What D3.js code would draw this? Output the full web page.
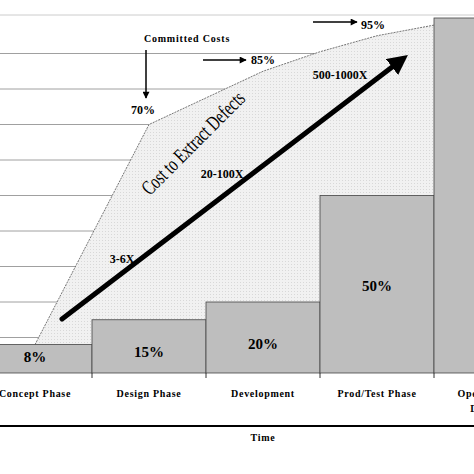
<!DOCTYPE html>
<html>
<head>
<script src="https://d3js.org/d3.v7.min.js"></script>
</head>
<body style="margin:0">
<svg class="target" width="474" height="474"></svg>
<script>

// phases and share of cost per phase
phases = ['Concept Phase', 'Design Phase', 'Development', 'Prod/Test Phase', 'Operations &\nDisposal']
costShare = [8, 15, 20, 50, 100]
shareLabels = ['8%', '15%', '20%', '50%', '100%']

// committed cost curve: position in phase units, percent
committedX = [0.5, 1.5, 2.5, 3, 3.5, 4]
committedY = [8, 70, 85, 90.5, 95, 98]

gridTicks = [10, 20, 30, 40, 50, 60, 70, 80, 90]

// defect cost multipliers along the arrow
multLabels = ['3-6X', '20-100X', '500-1000X']

const svg = d3.select('.target').style('background', '#fff')
const serif = 'Liberation Serif, Times New Roman, serif'

x = d3.scaleLinear().domain([0, 1]).range([-22, 92])   // phase boundary units
y = d3.scaleLinear().domain([0, 100]).range([373, 18])

// grid lines
svg.selectAll('line.grid')
  .data(gridTicks)
  .join('line')
    .attr('x1', 0).attr('x2', x(4))
    .attr('y1', d => y(d)).attr('y2', d => y(d))
    .attr('stroke', '#888').attr('stroke-width', 0.8)
svg.append('line').attr('x1', 0).attr('x2', 474).attr('y1', 15).attr('y2', 15)
  .attr('stroke', '#ccc')

// committed cost area
pattern = svg.append('defs').append('pattern')
  .attr('id', 'dots').attr('width', 3).attr('height', 3).attr('patternUnits', 'userSpaceOnUse')
pattern.append('rect').attr('width', 3).attr('height', 3).attr('fill', '#f1f1f1')
pattern.append('rect').attr('width', 1).attr('height', 1).attr('fill', '#d8d8d8')

pts = committedX.map((d, i) => [d, committedY[i]])
area = d3.area().x(d => x(d[0])).y0(y(0)).y1(d => y(d[1]))
svg.append('path').datum(pts).attr('d', area).attr('fill', 'url(#dots)')
svg.append('path').datum(pts)
  .attr('d', d3.line().x(d => x(d[0])).y(d => y(d[1])))
  .attr('fill', 'none').attr('stroke', '#555').attr('stroke-width', 0.8).attr('stroke-dasharray', '2,1')

// bars
svg.selectAll('rect.bar')
  .data(costShare)
  .join('rect')
    .attr('x', (d, i) => x(i)).attr('width', x(1) - x(0))
    .attr('y', d => y(d)).attr('height', d => y(0) - y(d))
    .attr('fill', '#bebebe').attr('stroke', '#444').attr('stroke-width', 0.8)

svg.selectAll('text.share')
  .data(costShare.slice(0, 4))
  .join('text')
    .attr('x', (d, i) => x(i + 0.5))
    .attr('y', (d, i) => [362, 357, 349, 291][i])
    .attr('text-anchor', 'middle')
    .style('font', `bold 15px ${serif}`)
    .text((d, i) => shareLabels[i])

// ticks and phase labels
svg.selectAll('line.tick')
  .data(d3.range(1, 5))
  .join('line')
    .attr('x1', d => x(d)).attr('x2', d => x(d))
    .attr('y1', y(0)).attr('y2', y(0) + 5).attr('stroke', '#333')

phases.forEach((p, i) => {
  p.split('\n').forEach((line, j) => {
    svg.append('text')
      .attr('x', x(i + 0.5)).attr('y', 397 + j * 15)
      .attr('text-anchor', 'middle')
      .style('font', `bold 10px ${serif}`).style('letter-spacing', '0.7px')
      .text(line)
  })
})

svg.append('line').attr('x1', 0).attr('x2', 474).attr('y1', 426).attr('y2', 426)
  .attr('stroke', '#000').attr('stroke-width', 2)
svg.append('text').attr('x', 263).attr('y', 441).attr('text-anchor', 'middle')
  .style('font', `bold 10px ${serif}`).style('letter-spacing', '0.8px').text('Time')

// arrows
const defs = svg.select('defs')
defs.append('marker').attr('id', 'head').attr('viewBox', '0 0 10 10')
  .attr('refX', 5).attr('refY', 5).attr('markerWidth', 4).attr('markerHeight', 4)
  .attr('orient', 'auto').attr('markerUnits', 'strokeWidth')
  .append('path').attr('d', 'M0,0L10,5L0,10z').attr('fill', '#000')
defs.append('marker').attr('id', 'small').attr('viewBox', '0 0 10 10')
  .attr('refX', 9).attr('refY', 5).attr('markerWidth', 8).attr('markerHeight', 7)
  .attr('orient', 'auto').attr('markerUnits', 'userSpaceOnUse')
  .append('path').attr('d', 'M0,0L10,5L0,10z').attr('fill', '#000')

svg.append('line').attr('x1', 62).attr('y1', 319).attr('x2', 400).attr('y2', 61)
  .attr('stroke', '#000').attr('stroke-width', 5).attr('stroke-linecap', 'round')
  .attr('marker-end', 'url(#head)')

const arrows = [[146, 50, 146, 98], [203, 60, 246, 60], [313, 22, 357, 22]]
arrows.forEach(a => svg.append('line')
  .attr('x1', a[0]).attr('y1', a[1]).attr('x2', a[2]).attr('y2', a[3])
  .attr('stroke', '#000').attr('stroke-width', 1.5).attr('marker-end', 'url(#small)'))

// annotation text
const notes = [['Committed Costs', 187, 42, 10], ['70%', 143, 114, 12], ['85%', 263, 64, 12], ['95%', 373, 29, 12]]
notes.forEach(n => svg.append('text').attr('x', n[1]).attr('y', n[2]).attr('text-anchor', 'middle')
  .style('font', `bold ${n[3]}px ${serif}`).style('letter-spacing', n[3] == 10 ? '0.8px' : '0')
  .text(n[0]))

const multPos = [[122, 263], [222, 178], [340, 79]]
multLabels.forEach((m, i) => svg.append('text')
  .attr('x', multPos[i][0]).attr('y', multPos[i][1]).attr('text-anchor', 'middle')
  .style('font', `bold 12px ${serif}`).text(m))

svg.append('text').attr('transform', 'translate(198,148) rotate(-45) scale(0.7,1)')
  .attr('text-anchor', 'middle').style('font', `21px ${serif}`).text('Cost to Extract Defects')

</script>
</body>
</html>
